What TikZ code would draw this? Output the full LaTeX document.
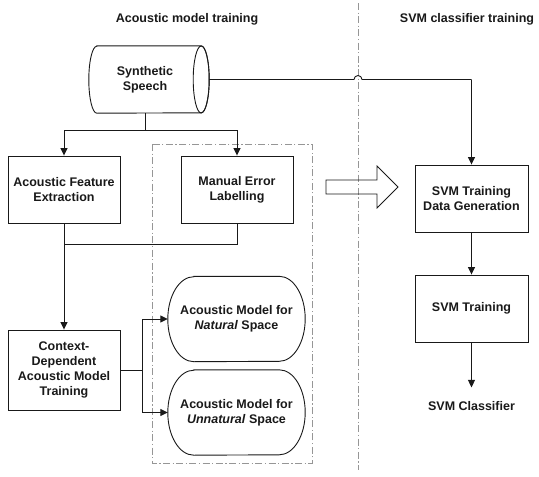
\documentclass[tikz,border=0pt]{standalone}
\usepackage{fontspec}
\setmainfont{Liberation Sans}
\usetikzlibrary{arrows.meta,calc}
\definecolor{dashgray}{RGB}{150,150,150}
\definecolor{ink}{RGB}{25,25,25}
\begin{document}
\begin{tikzpicture}[x=1pt,y=-1pt,
  every node/.style={font=\fontsize{12.5}{15}\selectfont\bfseries, align=center, inner sep=0pt, text=ink},
  box/.style={draw=ink, line width=0.9pt, minimum width=112pt, minimum height=67pt},
  ghost/.style={draw=none, minimum width=137pt, minimum height=85pt},
  shp/.style={draw=ink, line width=0.9pt},
  conn/.style={draw=ink, line width=0.9pt},
  arr/.style={conn, -{Triangle[length=7.5pt,width=7pt]}},
  dashdot/.style={draw=dashgray, line width=0.7pt, dash pattern=on 7pt off 2.5pt on 1.2pt off 2.5pt},
]
\useasboundingbox (0,0) rectangle (539,477);

% titles
\node (t1) at (187,19) {Acoustic model training};
\node (t2) at (467,19) {SVM classifier training};

% divider and dashed group box
\coordinate (divtop) at (358,3);
\coordinate (divbot) at (358,470);
\draw[dashdot] (divtop) -- (divbot);
\draw[dashdot] (152,144) rectangle (312,463);

% synthetic speech cylinder
\node[draw=none, minimum width=120pt, minimum height=67pt] (speech) at (149,79.5) {};
\node (speechtxt) at ([xshift=-4pt]speech.center) {Synthetic\\Speech};
\draw[shp] ([xshift=8pt]speech.north west) -- ([xshift=-8pt]speech.north east)
  arc[start angle=270, end angle=450, x radius=8, y radius=33.5]
  -- ([xshift=8pt]speech.south west)
  arc[start angle=90, end angle=270, x radius=8, y radius=33.5] -- cycle;
\draw[shp] ([xshift=-8pt]speech.east) ellipse [x radius=8, y radius=33.5];

% boxes
\node[box] (afe) at (64,189.5) {Acoustic Feature\\Extraction};
\node[box] (mel) at (237,189.5) {Manual Error\\Labelling};
\node[box, minimum height=80pt] (cdamt) at (64,370) {Context-\\Dependent\\Acoustic Model\\Training};
\node[box, minimum width=113pt] (tdg) at (471.5,198.5) {SVM Training\\Data Generation};
\node[box, minimum width=113pt] (svmt) at (471.5,308.5) {SVM Training};
\node[outer ysep=14pt] (svmc) at (471.5,406) {SVM Classifier};

% acoustic model shapes
\node[ghost] (nat) at (236.5,319) {Acoustic Model for\\\textit{Natural} Space};
\node[ghost] (unn) at (236.5,412.5) {Acoustic Model for\\\textit{Unnatural} Space};
\foreach \n in {nat,unn}{
  \draw[shp] ([xshift=26pt]\n.north west) -- ([xshift=-26pt]\n.north east)
    arc[start angle=-90, end angle=90, x radius=26, y radius=42.5]
    -- ([xshift=26pt]\n.south west)
    arc[start angle=90, end angle=270, x radius=26, y radius=42.5] -- cycle;
}

% connectors from speech
\coordinate (stem) at ([xshift=-4pt]speech.south);
\coordinate (split) at ($(stem)+(0,17)$);
\draw[conn] (stem) -- (split);
\draw[arr] (split) -| (afe.north);
\draw[arr] (split) -| (mel.north);

\coordinate (hop) at (divtop |- speech.east);
\coordinate (corner) at (tdg.north |- speech.east);
\draw[conn] (speech.east) -- ([xshift=-4pt]hop)
  arc[start angle=180, end angle=360, radius=4] -- (corner);
\draw[arr] (corner) -- (tdg.north);

% merge to CD training
\coordinate (merge) at (afe.south |- 0,244);
\draw[conn] (mel.south) |- (merge);
\draw[arr] (afe.south) -- (cdamt.north);

% branch to acoustic models
\coordinate (br) at (142,370);
\draw[conn] (cdamt.east) -- (br);
\draw[arr] (br) |- (nat.west);
\draw[arr] (br) |- (unn.west);

% SVM chain
\draw[arr] (tdg.south) -- (svmt.north);
\draw[arr] (svmt.south) -- (svmc.north);

% big hollow arrow
\draw[line width=0.8pt, draw=ink] (326,180) -- (377,180) -- (377,166) -- (398,187)
  -- (377,208) -- (377,194) -- (326,194) -- cycle;
\end{tikzpicture}
\end{document}
